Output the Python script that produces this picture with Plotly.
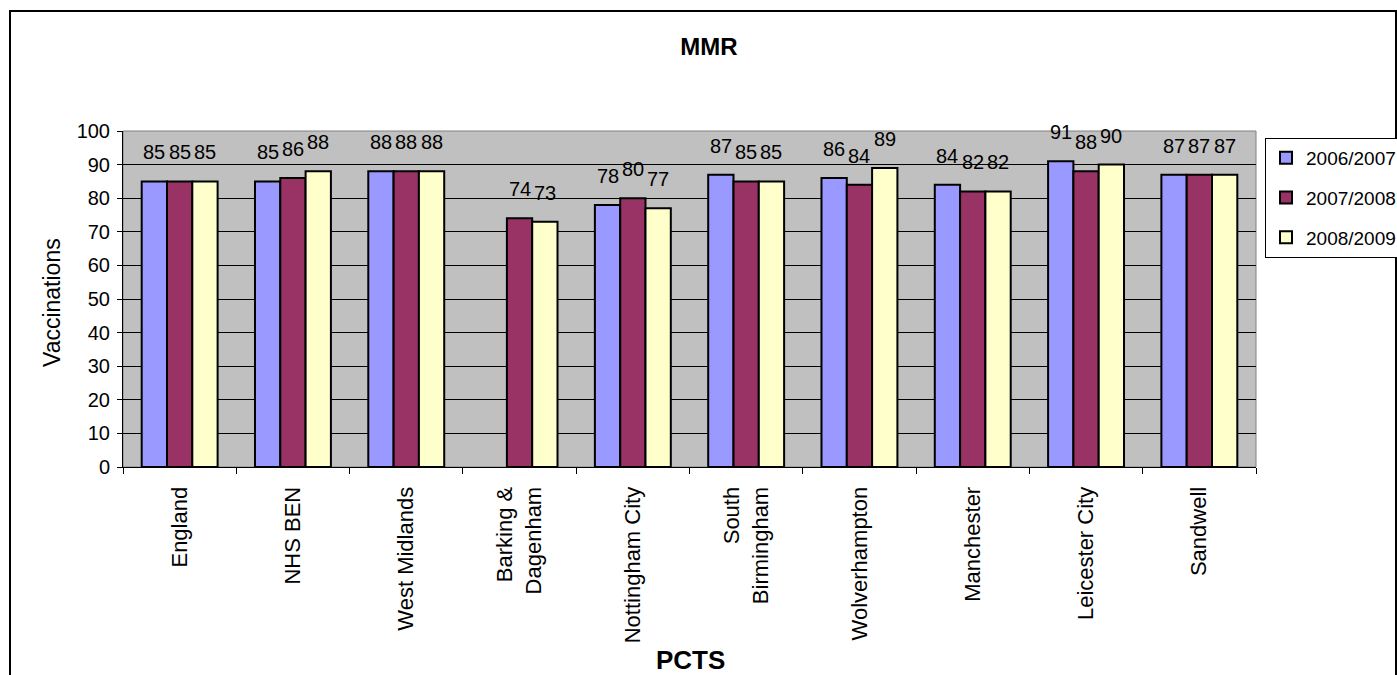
import plotly.graph_objects as go

categories = ["England", "NHS BEN", "West Midlands", "Barking &<br>Dagenham", "Nottingham City",
              "South<br>Birmingham", "Wolverhampton", "Manchester", "Leicester City", "Sandwell"]
series_names = ["2006/2007", "2007/2008", "2008/2009"]
v_2006_2007 = [85, 85, 88, None, 78, 87, 86, 84, 91, 87]
v_2007_2008 = [85, 86, 88, 74, 80, 85, 84, 82, 88, 87]
v_2008_2009 = [85, 88, 88, 73, 77, 85, 89, 82, 90, 87]
colors = ["#9999FF", "#993366", "#FFFFCC"]

FONT = "Arial, Liberation Sans, sans-serif"
W, H = 1397, 675
ML, MR, MT, MB = 123, 141, 131, 208
BARGAP = 0.33

fig = go.Figure()
all_vals = [v_2006_2007, v_2007_2008, v_2008_2009]
for i, (name, vals) in enumerate(zip(series_names, all_vals)):
    fig.add_trace(go.Bar(
        x=categories, y=vals, name=name,
        marker=dict(color=colors[i], line=dict(color="black", width=2)),
        legendgroup=name,
    ))

plot_w = W - ML - MR
plot_h = H - MT - MB
bar_px = plot_w / len(categories) * (1 - BARGAP) / 3
annotations = []
for i, vals in enumerate(all_vals):
    for c, v in zip(categories, vals):
        if v is None:
            continue
        annotations.append(dict(
            x=c, y=v, xref="x", yref="y", text=str(v), showarrow=False,
            xshift=(i - 1) * bar_px, yshift=29, yanchor="middle",
            font=dict(family=FONT, size=20, color="black"),
        ))

annotations.append(dict(
    x=(690 - ML) / plot_w, y=-(660 - (H - MB)) / plot_h, xref="paper", yref="paper",
    text="<b>PCTS</b>", showarrow=False, yanchor="middle",
    font=dict(family=FONT, size=26, color="black")))
annotations.append(dict(
    x=(52 - ML) / plot_w, y=((H - MB) - 303) / plot_h, xref="paper", yref="paper",
    text="Vaccinations", showarrow=False, textangle=-90, xanchor="center", yanchor="middle",
    font=dict(family=FONT, size=23, color="black")))

shapes = [
    dict(type="rect", xref="paper", yref="paper", x0=0, x1=1, y0=0, y1=1,
         line=dict(color="#808080", width=1), layer="below"),
    dict(type="rect", xref="paper", yref="paper",
         x0=(10 - ML) / plot_w, x1=(1396 - ML) / plot_w,
         y0=-(700 - (H - MB)) / plot_h, y1=((H - MB) - 11) / plot_h,
         line=dict(color="black", width=2)),
]

fig.update_layout(
    width=W, height=H,
    margin=dict(l=ML, r=MR, t=MT, b=MB, autoexpand=False),
    paper_bgcolor="white", plot_bgcolor="#C0C0C0",
    barmode="group", bargap=BARGAP, bargroupgap=0,
    title=dict(text="<b>MMR</b>", x=709 / W, xanchor="center", y=1 - 47 / H, yanchor="middle",
               font=dict(family=FONT, size=24, color="black")),
    font=dict(family=FONT, color="black"),
    showlegend=True,
    legend=dict(x=(1265 - ML) / plot_w, y=((H - MB) - 138) / plot_h, xanchor="left", yanchor="top",
                bgcolor="white", bordercolor="black", borderwidth=1,
                font=dict(family=FONT, size=19, color="black"), tracegroupgap=12,
                traceorder="grouped"),
    annotations=annotations,
    shapes=shapes,
)
fig.update_xaxes(
    type="category", tickangle=-90, tickfont=dict(family=FONT, size=22, color="black"),
    showline=True, linecolor="black", linewidth=1,
    ticks="outside", ticklen=6, tickcolor="black", tickson="boundaries",
    ticklabelstandoff=10,
    showgrid=False, zeroline=False,
)
fig.update_yaxes(
    range=[0, 100], dtick=10, tickfont=dict(family=FONT, size=20, color="black"),
    showline=True, linecolor="black", linewidth=1,
    ticks="outside", ticklen=5, tickcolor="black", ticklabelstandoff=3,
    showgrid=True, gridcolor="black", gridwidth=1, zeroline=False,
)

fig.write_html("out.html", config={"displayModeBar": False},
               post_script="document.body.style.margin='0';document.body.style.overflow='hidden';")
